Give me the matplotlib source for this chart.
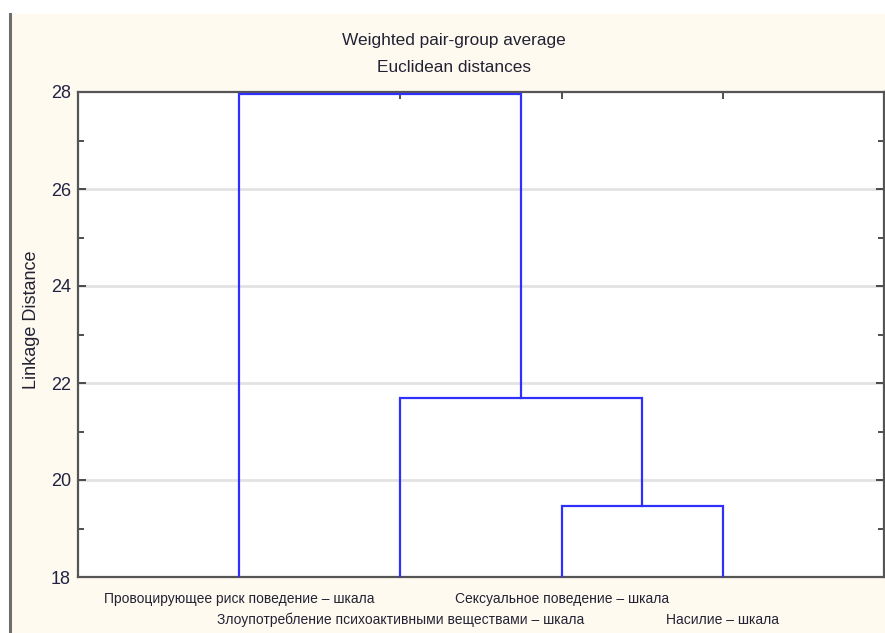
import matplotlib.pyplot as plt
from matplotlib.patches import Rectangle
from matplotlib.lines import Line2D
from matplotlib.ticker import MultipleLocator
import numpy as np

plt.rcParams['font.family'] = ['Liberation Sans Narrow', 'Liberation Sans', 'DejaVu Sans']

# leaves in drawing order, merges as (child_a, child_b, distance); new nodes numbered after leaves
leaf_labels = [
    "Провоцирующее риск поведение – шкала",
    "Злоупотребление психоактивными веществами – шкала",
    "Сексуальное поведение – шкала",
    "Насилие – шкала",
]
merges = [
    (2, 3, 19.47),
    (1, 4, 21.69),
    (0, 5, 27.96),
]
y_ticks = [18, 20, 22, 24, 26, 28]

W, H = 885, 633
fig = plt.figure(figsize=(W / 100, H / 100), dpi=100, facecolor="white")
fig.patches.append(Rectangle((11 / W, 0), 1 - 11 / W, 1 - 14 / H, transform=fig.transFigure,
                             facecolor="#FFFAF0", edgecolor="none", zorder=-2))
fig.lines.append(Line2D([10 / W, 10 / W], [0, 1 - 14 / H], transform=fig.transFigure,
                        color="#6E6E6E", lw=2.2, zorder=-1))

ax = fig.add_axes([78 / W, 1 - 577 / H, (884 - 78) / W, (577 - 92) / H])
ax.set_facecolor("white")

floor = y_ticks[0]
pos = {i: (i + 1.0, floor) for i in range(len(leaf_labels))}
for k, (a, b, d) in enumerate(merges):
    xa, ya = pos[a]
    xb, yb = pos[b]
    ax.plot([xa, xa, xb, xb], [ya, d, d, yb], color="#2F2FFF", lw=1.6,
            solid_joinstyle="miter", zorder=3)
    pos[len(leaf_labels) + k] = ((xa + xb) / 2, d)

ax.set_xlim(0, len(leaf_labels) + 1)
ax.set_ylim(y_ticks[0], y_ticks[-1])
ax.set_yticks(y_ticks)
ax.yaxis.set_minor_locator(MultipleLocator(1))
for t in y_ticks[1:-1]:
    ax.axhline(t, color="#E2E2E2", lw=2, zorder=1)

ax.set_xticks(np.arange(1, len(leaf_labels) + 1))
ax.set_xticklabels([])
ax.tick_params(axis="both", which="both", direction="in", top=True, right=True,
               color="#303030", width=1.2)
ax.tick_params(axis="y", which="major", length=6, labelsize=13, labelcolor="#222244", pad=5)
ax.tick_params(axis="y", which="minor", length=4)
ax.tick_params(axis="x", length=5)
for s in ax.spines.values():
    s.set_color("#555555")
    s.set_linewidth(1.6)

# staggered leaf labels
for i, lab in enumerate(leaf_labels):
    row = i % 2
    ax.annotate(lab, xy=(i + 1, 0), xycoords=("data", "axes fraction"),
                xytext=(0, -22 - 21 * row), textcoords="offset pixels",
                ha="center", va="center", fontsize=10, color="#222233")

ax.set_ylabel("Linkage Distance", fontsize=13, color="#222233")
ax.yaxis.set_label_coords(-0.047, 0.53)
fig.text(454 / W, 1 - 40 / H, "Weighted pair-group average", ha="center", va="center",
         fontsize=12.4, color="#222233")
fig.text(454 / W, 1 - 68 / H, "Euclidean distances", ha="center", va="center",
         fontsize=12.4, color="#222233")

fig.savefig("out.png", dpi=100, facecolor=fig.get_facecolor())
